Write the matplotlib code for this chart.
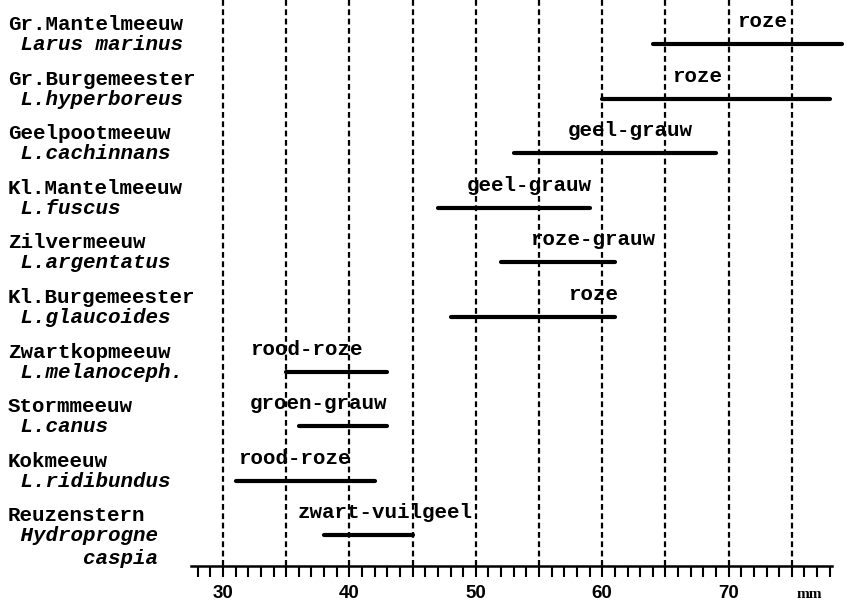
import matplotlib
matplotlib.use("Agg")
import matplotlib.pyplot as plt
import numpy as np

# ---------------- data ----------------
common_names = ["Gr.Mantelmeeuw", "Gr.Burgemeester", "Geelpootmeeuw", "Kl.Mantelmeeuw",
                "Zilvermeeuw", "Kl.Burgemeester", "Zwartkopmeeuw", "Stormmeeuw",
                "Kokmeeuw", "Reuzenstern"]
latin_names = [[" Larus marinus"], [" L.hyperboreus"], [" L.cachinnans"], [" L.fuscus"],
               [" L.argentatus"], [" L.glaucoides"], [" L.melanoceph."], [" L.canus"],
               [" L.ridibundus"], [" Hydroprogne", "      caspia"]]
colour_names = ["roze", "roze", "geel-grauw", "geel-grauw", "roze-grauw", "roze",
                "rood-roze", "groen-grauw", "rood-roze", "zwart-vuilgeel"]
range_low = [64, 60, 53, 47, 52, 48, 35, 36, 31, 38]
range_high = [79, 78, 69, 59, 61, 61, 43, 43, 42, 45]
grid_mm = [30, 35, 40, 45, 50, 55, 60, 65, 70, 75]
tick_labels = ["30", "40", "50", "60", "70"]
tick_values = [30, 40, 50, 60, 70]
unit_label = "mm"

# ---------------- layout ----------------
colour_label_x = [70.7, 65.5, 57.3, 49.3, 54.3, 57.3, 32.1, 32.1, 31.2, 35.9]
name_x = 13.0
row_px = 54.6

fig = plt.figure(figsize=(8.5, 6.1), dpi=100)
ax = fig.add_axes([0, 44 / 610, 1, 566 / 610])
ax.set_xlim(12.36, 79.6)
ax.set_ylim(9.56, -0.806)

mono = ["Liberation Mono", "DejaVu Sans Mono"]
fs = 15

rows = np.arange(len(common_names))

# dashed grid lines
ax.vlines(grid_mm, -0.806, 9.56, colors="black", linewidth=1.6,
          linestyles=[(0, (2.6, 1.6))], zorder=1)

for i in rows:
    ax.plot([range_low[i], range_high[i]], [i, i], color="black", lw=3.0,
            solid_capstyle="round", zorder=3)
    ax.text(name_x, i - 14 / row_px, common_names[i], family=mono, fontsize=fs,
            fontweight="bold", ha="left", va="baseline")
    for k, line in enumerate(latin_names[i]):
        ax.text(name_x, i + (6 + 23 * k) / row_px, line, family=mono, fontsize=fs,
                fontweight="bold", fontstyle="italic", ha="left", va="baseline")
    ax.text(colour_label_x[i], i - 17 / row_px, colour_names[i], family=mono,
            fontsize=fs, fontweight="bold", ha="left", va="baseline")

# ruler axis
for s in ["left", "top", "right"]:
    ax.spines[s].set_visible(False)
ax.spines["bottom"].set_bounds(27.5, 78.2)
ax.spines["bottom"].set_linewidth(1.8)
ax.set_yticks([])
ax.set_xticks(tick_values)
ax.set_xticklabels(tick_labels, fontfamily="Liberation Sans", fontweight="bold", fontsize=13.5)
ax.set_xticks(np.arange(28, 79), minor=True)
ax.tick_params(axis="x", which="both", direction="out", length=8, width=1.5, pad=6)
ax.text(76.4, (594 - 44) / row_px, unit_label, family="Liberation Serif",
        fontweight="bold", fontsize=11, ha="center", va="center")

fig.savefig("out.png", dpi=100)
